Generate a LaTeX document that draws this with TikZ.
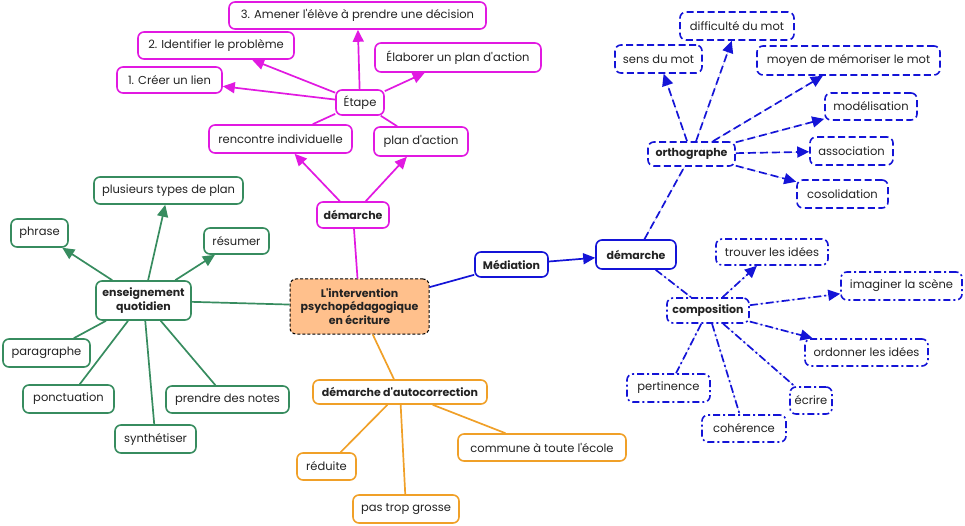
\documentclass[tikz,border=0pt]{standalone}
\usepackage{fontspec}
\setmainfont[Ligatures=TeXOff]{Poppins}
\usetikzlibrary{arrows.meta}
\definecolor{mag}{RGB}{225,25,225}
\definecolor{grn}{RGB}{55,140,95}
\definecolor{org}{RGB}{240,160,40}
\definecolor{blu}{RGB}{20,20,215}
\definecolor{peach}{RGB}{255,192,140}
\definecolor{txt}{RGB}{35,35,35}
\tikzset{
  box/.style={draw, rounded corners=6pt, line width=1.6pt, fill=white, inner sep=1pt,
    text=txt, font=\fontsize{11.5}{13.5}\selectfont, align=center},
  mgbox/.style={box, draw=mag},
  gnbox/.style={box, draw=grn},
  orbox/.style={box, draw=org},
  blbox/.style={box, draw=blu},
  bldash/.style={box, draw=blu, dash pattern=on 7pt off 3.5pt},
  bldot/.style={box, draw=blu, dash pattern=on 7pt off 3pt on 2pt off 3pt},
  bf/.style={font=\fontsize{11}{13.5}\selectfont\bfseries},
  sz/.style 2 args={minimum width=#1pt, minimum height=#2pt},
  tip/.style={-{Triangle[length=12pt,width=11pt]}},
  con/.style={line width=1.7pt},
  mgl/.style={con, draw=mag, fill=mag},
  gnl/.style={con, draw=grn, fill=grn},
  orl/.style={con, draw=org},
  bll/.style={con, draw=blu, fill=blu},
  bldl/.style={bll, dash pattern=on 8pt off 4pt},
  bldd/.style={bll, dash pattern=on 8pt off 3pt on 2pt off 3pt},
}
\begin{document}
\begin{tikzpicture}[x=1pt,y=-1pt]
\useasboundingbox (0,0) rectangle (965,526);
% centre
\node[box, draw=black, dash pattern=on 3pt off 2pt, line width=1pt, fill=peach, bf, sz={139}{55}] (c) at (359.5,306.5) {L'intervention\\psychopédagogique\\en écriture};
% magenta
\node[mgbox, sz={257}{27}] (n3) at (357.5,15.5) {3. Amener l'élève à prendre une décision};
\node[mgbox, sz={156}{27}] (n2) at (216,45.5) {2. Identifier le problème};
\node[mgbox, sz={105}{26}] (n1) at (169.5,80) {1. Créer un lien};
\node[mgbox, sz={166}{29}] (elab) at (458,57.5) {Élaborer un plan d'action};
\node[mgbox, sz={48}{25}] (etape) at (360,102.5) {Étape};
\node[mgbox, sz={143}{28}] (renc) at (280.5,139) {rencontre individuelle};
\node[mgbox, sz={94}{29}] (plan) at (421,141.5) {plan d'action};
\node[mgbox, bf, sz={72}{26}] (dem1) at (353,215) {démarche};
% green
\node[gnbox, sz={149}{27}] (plus) at (168.5,190.5) {plusieurs types de plan};
\node[gnbox, sz={57}{28}] (phrase) at (39.5,233) {phrase};
\node[gnbox, sz={65}{26}] (resumer) at (236.5,241) {résumer};
\node[gnbox, bf, sz={95}{39}] (ens) at (143.5,300.5) {enseignement\\quotidien};
\node[gnbox, sz={87}{28}] (para) at (46.5,353) {paragraphe};
\node[gnbox, sz={91}{28}] (ponct) at (68.5,399) {ponctuation};
\node[gnbox, sz={123}{27}] (prendre) at (227.5,399.5) {prendre des notes};
\node[gnbox, sz={81}{28}] (synth) at (155.5,439) {synthétiser};
% orange
\node[orbox, bf, sz={174}{24}] (auto) at (400,392) {démarche d'autocorrection};
\node[orbox, sz={59}{27}] (reduite) at (326.5,466.5) {réduite};
\node[orbox, sz={106}{28}] (pas) at (406,509) {pas trop grosse};
\node[orbox, sz={168}{27}] (commune) at (542,447.5) {commune à toute l'école};
% blue
\node[blbox, bf, sz={73}{25}] (med) at (511.5,264.5) {Médiation};
\node[blbox, bf, sz={80}{29}] (dem2) at (636,254.5) {démarche};
\node[bldash, bf, sz={87}{24}] (ortho) at (691.5,154) {orthographe};
\node[bldash, sz={87}{28}] (sens) at (658.5,59) {sens du mot};
\node[bldash, sz={114}{28}] (diff) at (737,26) {difficulté du mot};
\node[bldash, sz={183}{29}] (moyen) at (848.5,60.5) {moyen de mémoriser le mot};
\node[bldash, sz={92}{27}] (model) at (871,106.5) {modélisation};
\node[bldash, sz={83}{28}] (assoc) at (851.5,151) {association};
\node[bldash, sz={91}{28}] (cosol) at (842.5,194) {cosolidation};
\node[bldot, bf, sz={82}{25}] (compo) at (708,310.5) {composition};
\node[bldot, sz={112}{26}] (trouver) at (772,252) {trouver les idées};
\node[bldot, sz={121}{28}] (imag) at (901.5,286) {imaginer la scène};
\node[bldot, sz={123}{27}] (ordon) at (866.5,352.5) {ordonner les idées};
\node[bldot, sz={83}{28}] (pert) at (668.5,388) {pertinence};
\node[bldot, sz={42}{27}] (ecrire) at (811,400.5) {écrire};
\node[bldot, sz={84}{27}] (coher) at (744,428.5) {cohérence};
% magenta connectors
\draw[mgl] (c) -- (dem1);
\draw[mgl, tip] (dem1) -- (renc);
\draw[mgl, tip] (dem1) -- (plan);
\draw[mgl] (renc) -- (etape);
\draw[mgl] (plan) -- (etape);
\draw[mgl, tip] (etape) -- (n1);
\draw[mgl, tip] (etape) -- (n2);
\draw[mgl, tip] (etape) -- (n3);
\draw[mgl, tip] (etape) -- (elab);
% green connectors
\draw[gnl] (c) -- (ens);
\draw[gnl, tip] (ens) -- (plus);
\draw[gnl, tip] (ens) -- (phrase);
\draw[gnl, tip] (ens) -- (resumer);
\draw[gnl] (ens) -- (para);
\draw[gnl] (ens) -- (ponct);
\draw[gnl] (ens) -- (synth);
\draw[gnl] (ens) -- (prendre);
% orange connectors
\draw[orl] (c) -- (auto);
\draw[orl] (auto) -- (reduite);
\draw[orl] (auto) -- (pas);
\draw[orl] (auto) -- (commune);
% blue connectors
\draw[bll] (c) -- (med);
\draw[bll, tip] (med) -- (dem2);
\draw[bldl] (dem2) -- (ortho);
\draw[bldd] (dem2) -- (compo);
\draw[bldl, tip] (ortho) -- (sens);
\draw[bldl, tip] (ortho) -- (diff);
\draw[bldl, tip] (ortho) -- (moyen);
\draw[bldl, tip] (ortho) -- (model);
\draw[bldl, tip] (ortho) -- (assoc);
\draw[bldl, tip] (ortho) -- (cosol);
\draw[bldd, tip] (compo) -- (trouver);
\draw[bldd, tip] (compo) -- (imag);
\draw[bldd, tip] (compo) -- (ordon);
\draw[bldd] (compo) -- (pert);
\draw[bldd] (compo) -- (coher);
\draw[bldd] (compo) -- (ecrire);
\end{tikzpicture}
\end{document}
